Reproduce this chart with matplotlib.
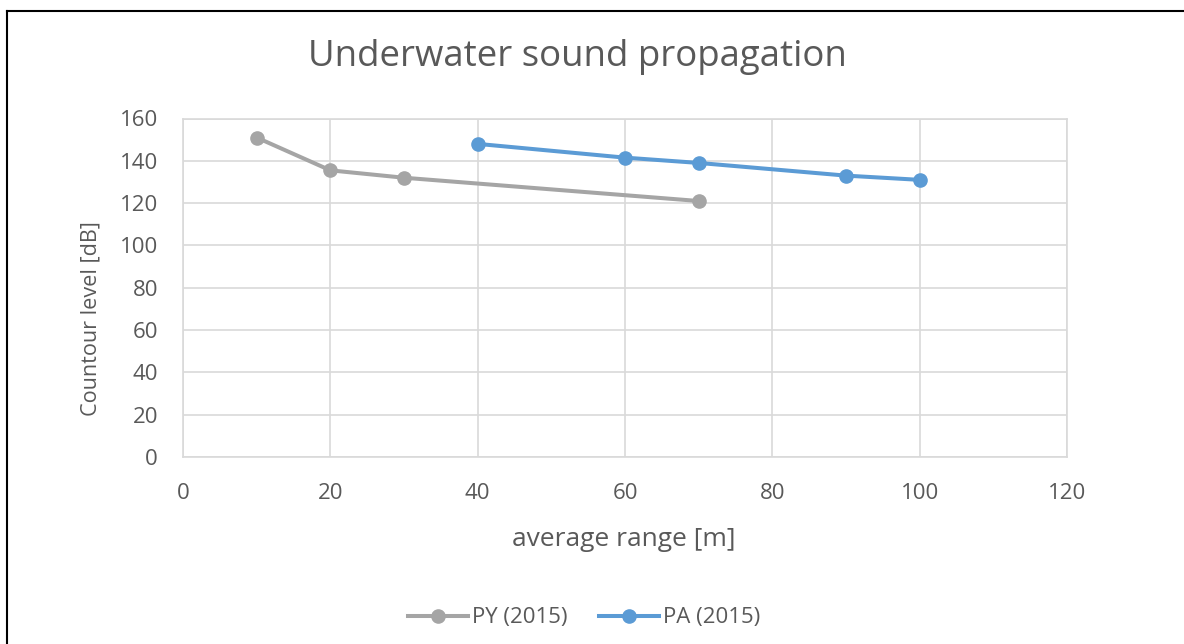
import matplotlib
matplotlib.use("Agg")
import matplotlib.pyplot as plt
from matplotlib.lines import Line2D

py_x = [10, 20, 30, 70]
py_y = [151, 135.5, 132, 121]
pa_x = [40, 60, 70, 90, 100]
pa_y = [148, 141.5, 139, 133, 131]
x_ticks = [0, 20, 40, 60, 80, 100, 120]
y_ticks = [0, 20, 40, 60, 80, 100, 120, 140, 160]

TXT = "#595959"
GRID = "#D9D9D9"
FONT = "Open Sans"
plt.rcParams['font.family'] = [FONT, 'DejaVu Sans']

W, H = 1184, 644
fig = plt.figure(figsize=(W/100, H/100), dpi=100)
ax = fig.add_axes([183/W, 1-457/H, (1067-183)/W, (457-118.5)/H])

ax.plot(py_x, py_y, color="#A5A5A5", lw=2.9, marker="o", ms=9.5, label="PY (2015)", zorder=3)
ax.plot(pa_x, pa_y, color="#5B9BD5", lw=2.9, marker="o", ms=9.5, label="PA (2015)", zorder=3)

ax.set_xlim(0, 120)
ax.set_ylim(0, 160)
ax.set_xticks(x_ticks)
ax.set_yticks(y_ticks)
ax.grid(True, color=GRID, lw=1.2)
ax.set_axisbelow(True)
for s in ax.spines.values():
    s.set_color(GRID)
    s.set_linewidth(1.2)
ax.tick_params(length=0, colors=TXT, labelsize=16)
ax.tick_params(axis='x', pad=19)
ax.tick_params(axis='y', pad=18)

fig.text(577/W, 1-57/H, "Underwater sound propagation", ha="center", va="center",
         fontsize=26.4, color=TXT)
fig.text(624/W, 1-540/H, "average range [m]", ha="center", va="center",
         fontsize=19, color=TXT)
fig.text(91/W, 1-319/H, "Countour level [dB]", ha="center", va="center",
         fontsize=15.6, color=TXT, rotation=90)

leg = fig.legend(loc="center", bbox_to_anchor=(584/W, 1-618/H), ncol=2, frameon=False,
                 fontsize=16, labelcolor=TXT, handlelength=2.7, handletextpad=0.2,
                 columnspacing=1.4)

fig.add_artist(Line2D([7/W, 7/W], [0, 1-11/H], transform=fig.transFigure, color="black", lw=1.5))
fig.add_artist(Line2D([7/W, 1], [1-11/H, 1-11/H], transform=fig.transFigure, color="black", lw=1.5))

fig.savefig("out.png", dpi=100)
